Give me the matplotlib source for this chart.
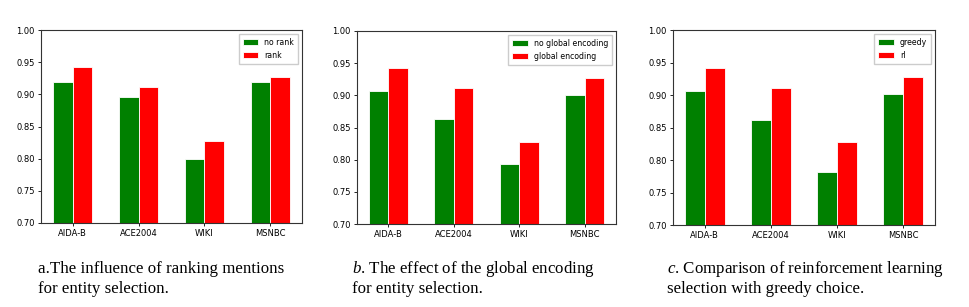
import matplotlib.pyplot as plt
import numpy as np

datasets = ["AIDA-B", "ACE2004", "WIKI", "MSNBC"]

no_rank = [0.919, 0.896, 0.799, 0.919]
rank = [0.942, 0.911, 0.827, 0.927]

no_global = [0.906, 0.863, 0.794, 0.900]
global_enc = [0.942, 0.911, 0.827, 0.927]

greedy = [0.906, 0.862, 0.781, 0.902]
rl = [0.942, 0.911, 0.827, 0.927]

panels = [
    (no_rank, rank, "no rank", "rank"),
    (no_global, global_enc, "no global encoding", "global encoding"),
    (greedy, rl, "greedy", "rl"),
]

captions = [
    ("a.The influence of ranking mentions", "for entity selection."),
    ("$\\it{b}$. The effect of the global encoding", "for entity selection."),
    ("$\\it{c}$. Comparison of reinforcement learning", "selection with greedy choice."),
]

plt.rcParams['mathtext.fontset'] = 'custom'
plt.rcParams['mathtext.it'] = 'Liberation Serif:italic'
plt.rcParams['mathtext.rm'] = 'Liberation Serif'

fig = plt.figure(figsize=(9.69, 3.07), dpi=100)
W, H = 969, 307
boxes = [(41, 30, 302, 223), (357, 31, 616, 224), (673, 30, 935, 225)]
cap_x = [38, 352, 667]

x = np.arange(len(datasets))
w = 0.3
for i, (a, b, la, lb) in enumerate(panels):
    l, t, r, bt = boxes[i]
    ax = fig.add_axes([l / W, 1 - bt / H, (r - l) / W, (bt - t) / H])
    ax.bar(x - w / 2, a, w, color="green", edgecolor="white", linewidth=0.6, label=la)
    ax.bar(x + w / 2, b, w, color="red", edgecolor="white", linewidth=0.6, label=lb)
    ax.set_ylim(0.70, 1.00)
    ax.set_yticks([0.70, 0.75, 0.80, 0.85, 0.90, 0.95, 1.00])
    ax.set_xticks(x)
    ax.set_xticklabels(datasets)
    ax.tick_params(labelsize=6, length=2.5, width=0.6, pad=2)
    for s in ax.spines.values():
        s.set_linewidth(0.8)
        s.set_color("#333333")
    ax.legend(fontsize=5.6, loc="upper right", handlelength=2.0, borderpad=0.5,
              fancybox=False, framealpha=1)
    fig.text(cap_x[i] / W, 1 - 269 / H, captions[i][0], fontsize=12.2,
             family="Liberation Serif", va="center", ha="left")
    fig.text(cap_x[i] / W, 1 - 289 / H, captions[i][1], fontsize=12.2,
             family="Liberation Serif", va="center", ha="left")

plt.savefig("out.png", dpi=100)
